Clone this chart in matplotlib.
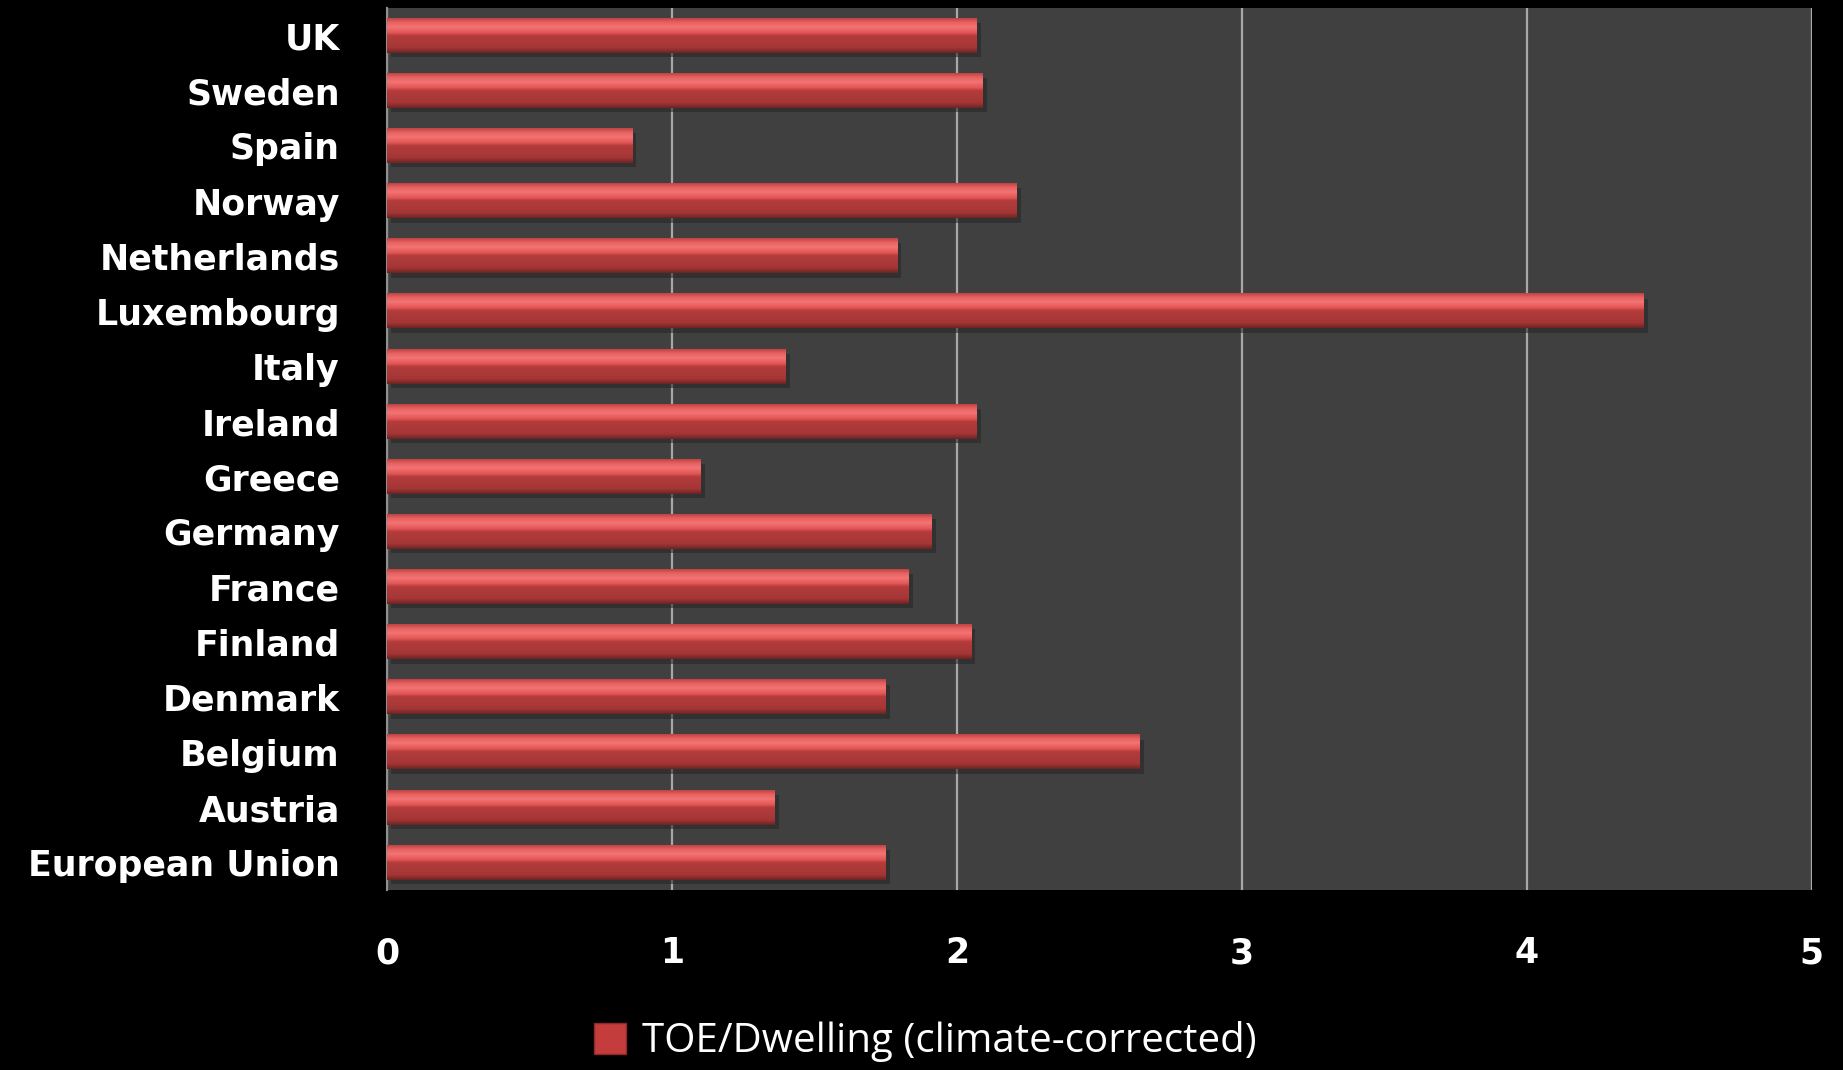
import numpy as np
import matplotlib.pyplot as plt
from matplotlib.colors import LinearSegmentedColormap
from matplotlib.patches import Patch

countries = ['European Union', 'Austria', 'Belgium', 'Denmark', 'Finland', 'France',
             'Germany', 'Greece', 'Ireland', 'Italy', 'Luxembourg', 'Netherlands',
             'Norway', 'Spain', 'Sweden', 'UK']
toe = [1.75, 1.36, 2.64, 1.75, 2.05, 1.83, 1.91, 1.10, 2.07, 1.40, 4.41, 1.79,
       2.21, 0.86, 2.09, 2.07]
legend_label = 'TOE/Dwelling (climate-corrected)'

# vertical shading of a bar, top -> bottom
bar_cmap = LinearSegmentedColormap.from_list('bar', [
    (0.0, '#c04444'), (0.12, '#e86262'), (0.25, '#f47474'), (0.42, '#e25454'),
    (0.5, '#b43c3c'), (0.85, '#a53636'), (1.0, '#6e2424')])
grad = np.linspace(0, 1, 64).reshape(-1, 1)

fig = plt.figure(figsize=(18.43, 10.70), dpi=100, facecolor='black')
ax = fig.add_axes([0.21, 0.168, 0.773, 0.8245])
ax.set_facecolor('#404040')

y = np.arange(len(countries))
h = 0.62
# drop shadow
ax.barh(y - 0.08, toe, height=h, left=0.015, color='#262626', alpha=0.55, zorder=2)
bars = ax.barh(y, toe, height=h, color='none', zorder=3)
for b in bars:
    x0, y0 = b.get_x(), b.get_y()
    ax.imshow(grad, cmap=bar_cmap, aspect='auto', interpolation='bilinear',
              extent=(x0, x0 + b.get_width(), y0, y0 + b.get_height()),
              origin='upper', zorder=3)

ax.set_xlim(0, 5)
ax.set_ylim(-0.5, len(countries) - 0.5)
ax.set_xticks(range(6))
ax.set_yticks(y)
ax.set_yticklabels(countries)
ax.grid(axis='x', color='#a8a8a8', linewidth=1.6, zorder=1)
ax.set_axisbelow(True)
for s in ['top', 'right', 'bottom']:
    ax.spines[s].set_visible(False)
ax.spines['left'].set_color('#909090')
ax.spines['left'].set_linewidth(1.5)
ax.tick_params(axis='both', length=0, colors='white')
ax.tick_params(axis='y', pad=34)
ax.tick_params(axis='x', pad=33)
for lab in ax.get_xticklabels() + ax.get_yticklabels():
    lab.set_fontsize(25)
    lab.set_fontweight('bold')
    lab.set_family('DejaVu Sans')

handle = Patch(facecolor='#c43c3c', edgecolor='#8a2a2a')
fig.legend([handle], [legend_label], loc='center',
           bbox_to_anchor=(925 / 1843, 1 - 1042 / 1070),
           frameon=False, labelcolor='white',
           handlelength=0.8, handleheight=0.8, handletextpad=0.4,
           borderpad=0.1, prop={'family': 'Open Sans', 'size': 29})

fig.savefig('out.png', dpi=100, facecolor='black')
